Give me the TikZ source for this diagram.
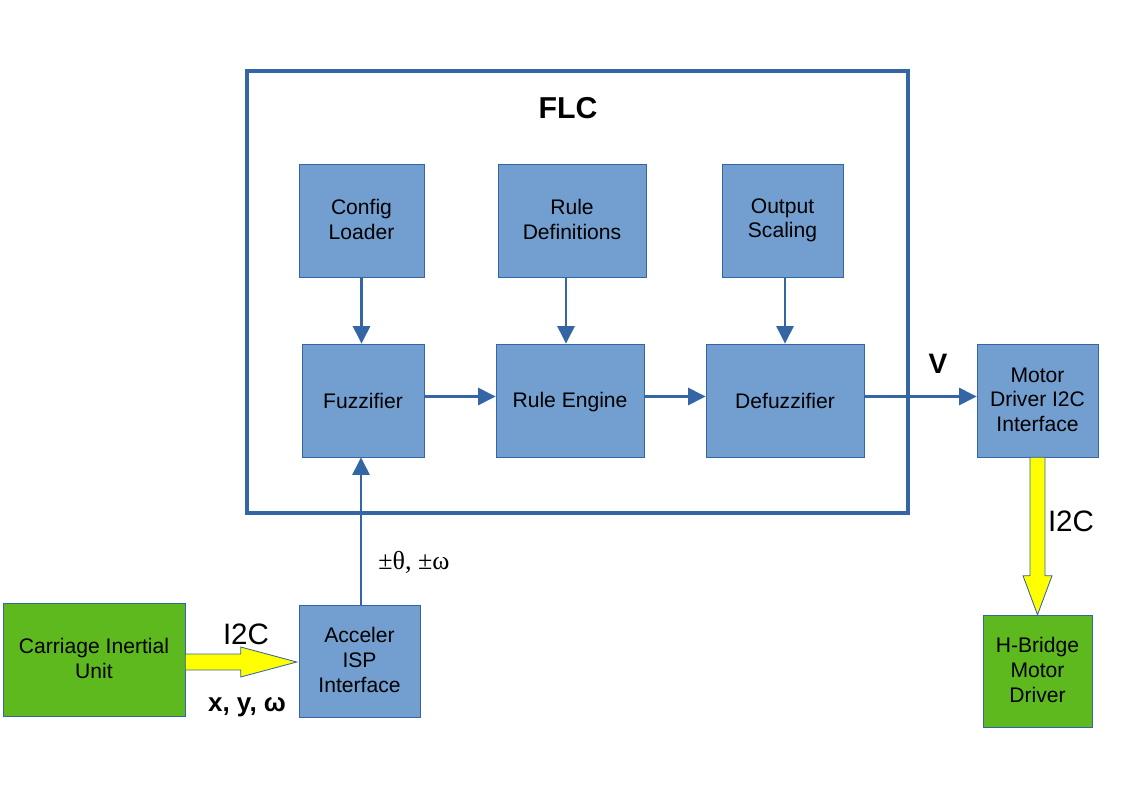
\documentclass[tikz,border=0pt]{standalone}
\usepackage{fontspec}
\setmainfont{Liberation Sans}
\newfontfamily\symfont{Liberation Serif}
\usetikzlibrary{arrows.meta,calc}
\definecolor{flcblue}{HTML}{3465A4}
\definecolor{boxblue}{HTML}{729FCF}
\definecolor{boxgreen}{HTML}{5EB91E}
\definecolor{sigyellow}{HTML}{FFFF00}
\newcommand\boxstrut{\rule[-1.5pt]{0pt}{14pt}}

\begin{document}
\begin{tikzpicture}[
	x=0.025cm, y=-0.025cm,
	block/.style={
		rectangle, draw=flcblue, fill=boxblue,
		minimum width=#1*0.025cm, minimum height=113*0.025cm,
		inner sep=0pt, align=center,
		font=\fontsize{15}{17.5}\selectfont,
		execute at begin node=\boxstrut, execute at end node=\boxstrut
	},
	unit/.style={block=#1, fill=boxgreen},
	frame/.style={draw=flcblue, line width=2.8pt},
	line/.style={draw=flcblue, line width=2.1pt, -{Triangle[length=12.5pt, width=12pt]}},
	sigarrow/.style={fill=sigyellow, draw=flcblue, line width=0.6pt},
	tag/.style={font=\fontsize{21}{24}\selectfont},
	]
	\useasboundingbox (0,0) rectangle (1123,794);

	% controller frame
	\draw [frame] (247,71) rectangle (908,513);
	\node [font=\fontsize{21.5}{24}\selectfont\bfseries] (flc) at (568,108) {FLC};

	% upper row
	\node [block=125] (cfg) at (361.5,220.5) {Config\\Loader};
	\node [block=148] (rdef) at (572,220.5) {Rule\\Definitions};
	\node [block=121] (osc) at (782.5,220.5) {Output\\Scaling};

	% processing row
	\node [block=122] (fuzz) at (363,400.5) {Fuzzifier};
	\node [block=148] (reng) at (570,400.5) {Rule Engine};
	\node [block=158] (defz) at (785,400.5) {Defuzzifier};
	\node [block=121] (mdi) at (1037.5,400.5) {Motor\\Driver I2C\\Interface};

	% sensor side
	\node [unit=182] (ciu) at (94,659.5) {Carriage Inertial\\Unit};
	\node [block=121, minimum height=112*0.025cm] (acc) at (359.5,661) {Acceler\\ISP\\Interface};
	\node [unit=109, minimum height=112*0.025cm] (hb) at (1037.5,671) {H-Bridge\\Motor\\Driver};

	\path [line] (cfg.south) -- (cfg.south |- fuzz.north);
	\path [line] (rdef.south -| 566,0) -- (566,0 |- reng.north);
	\path [line] (osc.south -| defz) -- (defz.north);
	\path [line] ($(fuzz.east)+(0,-4)$) -- ($(reng.west)+(0,-4)$);
	\path [line] ($(reng.east)+(0,-4)$) -- ($(defz.west)+(0,-4)$);
	\path [line] ($(defz.east)+(0,-4)$) -- ($(mdi.west)+(0,-4)$);
	\path [line] (acc.north -| 361,0) -- (361,0 |- fuzz.south);

	% I2C links
	\coordinate (yl0) at ($(ciu.east)+(0,2.5)$);
	\coordinate (yl1) at ($(acc.west)+(-2,1)$);
	\path [sigarrow] ($(yl0)+(0,-8)$) -- ($(yl1)+(-56,-8)$) -- ($(yl1)+(-56,-15)$)
		-- (yl1) -- ($(yl1)+(-56,15)$) -- ($(yl1)+(-56,8)$) -- ($(yl0)+(0,8)$) -- cycle;
	\path [sigarrow] ($(mdi.south)+(-7.5,0)$) -- ($(hb.north)+(-7.5,-39)$) -- ($(hb.north)+(-14.5,-39)$)
		-- (hb.north) -- ($(hb.north)+(14.5,-39)$) -- ($(hb.north)+(7.5,-39)$) -- ($(mdi.south)+(7.5,0)$) -- cycle;

	% labels
	\node [tag] (i2cl) at (246,634) {I2C};
	\node [tag] (i2cr) at (1071,521) {I2C};
	\node [font=\fontsize{18.5}{21}\selectfont\bfseries] (xyw) at (247,707) {x, y, ω};
	\node [font=\fontsize{18.5}{21}\selectfont\symfont] (tw) at (414,562) {±θ, ±ω};
	\node [font=\fontsize{20}{22}\selectfont\bfseries] (vel) at (938,364) {V};
\end{tikzpicture}
\end{document}
